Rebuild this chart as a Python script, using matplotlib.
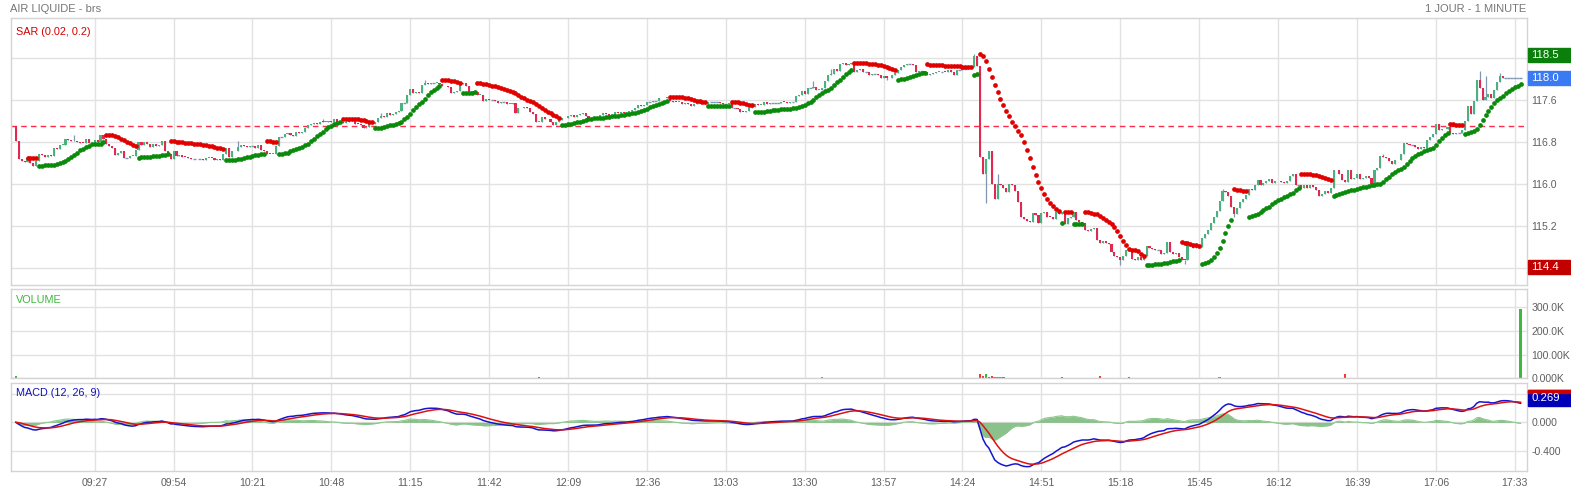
import numpy as np
import pandas as pd
import matplotlib
matplotlib.use("Agg")
import matplotlib.pyplot as plt
import matplotlib.transforms as mtransforms
from matplotlib.patches import Rectangle

plt.rcParams["font.family"] = ["Liberation Sans", "DejaVu Sans"]

# one bar per minute, 09:00 -> 17:35
FIRST_OPEN = 117.10
PREV_CLOSE = 117.10
CLOSES = [
    116.81, 116.47, 116.43, 116.41, 116.50, 116.40, 116.35, 116.44, 116.58, 116.56,  # 0
    116.52, 116.56, 116.54, 116.68, 116.67, 116.74, 116.75, 116.86, 116.83, 116.81,
    116.82, 116.80, 116.79, 116.78, 116.85, 116.79, 116.77, 116.84, 116.80, 116.94,
    116.85, 116.76, 116.72, 116.68, 116.56, 116.60, 116.62, 116.50, 116.50, 116.53,
    116.54, 116.64, 116.80, 116.74, 116.80, 116.77, 116.70, 116.77, 116.73, 116.75,
    116.82, 116.62, 116.58, 116.47, 116.63, 116.54, 116.55, 116.52, 116.51, 116.49,  # 50
    116.48, 116.48, 116.47, 116.47, 116.45, 116.49, 116.50, 116.49, 116.45, 116.47,
    116.46, 116.58, 116.68, 116.52, 116.63, 116.62, 116.71, 116.74, 116.73, 116.70,
    116.72, 116.72, 116.68, 116.74, 116.65, 116.62, 116.58, 116.57, 116.58, 116.73,
    116.90, 116.90, 116.95, 116.97, 116.93, 116.92, 117.00, 116.97, 116.99, 117.06,
    117.12, 117.14, 117.16, 117.15, 117.19, 117.18, 117.19, 117.20, 117.19, 117.24,  # 100
    117.19, 117.19, 117.17, 117.18, 117.20, 117.21, 117.15, 117.14, 117.12, 117.06,
    117.08, 117.16, 117.15, 117.18, 117.25, 117.29, 117.27, 117.35, 117.32, 117.34,
    117.37, 117.39, 117.55, 117.55, 117.70, 117.81, 117.73, 117.75, 117.74, 117.89,
    117.92, 117.91, 117.92, 117.92, 117.93, 117.91, 117.86, 117.87, 117.85, 117.73,
    117.76, 117.78, 117.91, 117.92, 117.87, 117.75, 117.76, 117.75, 117.69, 117.70,  # 150
    117.58, 117.62, 117.60, 117.60, 117.58, 117.54, 117.56, 117.56, 117.52, 117.53,
    117.54, 117.36, 117.44, 117.45, 117.46, 117.44, 117.38, 117.33, 117.18, 117.19,
    117.28, 117.24, 117.23, 117.19, 117.13, 117.19, 117.22, 117.25, 117.26, 117.30,
    117.31, 117.27, 117.31, 117.33, 117.35, 117.30, 117.26, 117.26, 117.26, 117.27,
    117.32, 117.36, 117.33, 117.30, 117.31, 117.37, 117.36, 117.37, 117.35, 117.35,  # 200
    117.39, 117.41, 117.44, 117.51, 117.48, 117.51, 117.57, 117.57, 117.58, 117.58,
    117.64, 117.63, 117.64, 117.66, 117.58, 117.57, 117.56, 117.57, 117.53, 117.55,
    117.52, 117.48, 117.52, 117.54, 117.54, 117.54, 117.52, 117.56, 117.56, 117.56,
    117.56, 117.55, 117.52, 117.52, 117.54, 117.44, 117.44, 117.42, 117.38, 117.37,
    117.40, 117.44, 117.46, 117.52, 117.50, 117.51, 117.57, 117.52, 117.55, 117.55,  # 250
    117.55, 117.55, 117.57, 117.56, 117.55, 117.56, 117.56, 117.68, 117.69, 117.77,
    117.72, 117.82, 117.82, 117.85, 117.79, 117.80, 117.82, 117.96, 118.08, 118.09,
    118.19, 118.16, 118.28, 118.31, 118.27, 118.28, 118.30, 118.14, 118.18, 118.19,
    118.14, 118.14, 118.08, 118.10, 118.10, 118.08, 118.02, 118.06, 118.01, 118.02,
    118.08, 118.12, 118.18, 118.22, 118.27, 118.28, 118.28, 118.27, 118.14, 118.16,  # 300
    118.16, 118.13, 118.08, 118.10, 118.11, 118.13, 118.14, 118.14, 118.13, 118.18,
    118.13, 118.08, 118.17, 118.17, 118.19, 118.19, 118.22, 118.22, 118.43, 118.24,
    116.52, 116.19, 116.47, 116.63, 116.00, 115.71, 116.00, 115.98, 115.92, 115.85,
    116.00, 115.98, 115.86, 115.65, 115.37, 115.33, 115.30, 115.27, 115.45, 115.40,
    115.25, 115.45, 115.47, 115.38, 115.37, 115.34, 115.46, 115.42, 115.47, 115.23,  # 350
    115.35, 115.38, 115.47, 115.31, 115.28, 115.25, 115.13, 115.10, 115.15, 115.17,
    114.93, 114.88, 114.91, 114.88, 114.86, 114.70, 114.63, 114.60, 114.55, 114.62,
    114.75, 114.72, 114.58, 114.56, 114.60, 114.56, 114.62, 114.81, 114.78, 114.77,
    114.74, 114.74, 114.66, 114.68, 114.89, 114.70, 114.66, 114.68, 114.60, 114.56,
    114.55, 114.83, 114.81, 114.78, 114.80, 114.80, 114.98, 115.05, 115.12, 115.26,  # 400
    115.38, 115.48, 115.68, 115.86, 115.84, 115.77, 115.57, 115.43, 115.54, 115.65,
    115.72, 115.80, 115.90, 115.89, 115.99, 116.08, 115.99, 116.02, 116.05, 116.10,
    116.02, 116.05, 116.06, 116.04, 116.02, 116.06, 116.15, 116.20, 115.99, 115.99,
    115.92, 115.99, 115.92, 115.99, 115.94, 115.89, 115.78, 115.81, 115.86, 115.82,
    115.93, 116.26, 116.27, 116.20, 116.08, 116.04, 116.26, 116.10, 116.11, 116.19,  # 450
    116.10, 116.12, 116.15, 116.12, 116.00, 116.27, 116.30, 116.53, 116.52, 116.50,
    116.44, 116.39, 116.45, 116.46, 116.58, 116.78, 116.76, 116.75, 116.75, 116.70,
    116.66, 116.70, 116.68, 116.84, 116.90, 116.96, 117.14, 117.03, 117.05, 117.04,
    117.08, 116.98, 116.96, 116.97, 116.97, 117.03, 117.20, 117.49, 117.33, 117.59,
    117.98, 117.82, 117.60, 117.65, 117.72, 117.63, 117.79, 117.95, 118.05, 118.02,  # 500
    118.02, 118.02, 118.02, 118.02, 118.02, 118.02,
]

# visible wicks beyond the candle bodies
WICK_HI_IDX = [0, 20, 76, 105, 125, 140, 273, 279, 328, 336, 413, 468, 501, 503, 508]
WICK_HI_VAL = [117.10, 116.93, 116.82, 117.24, 117.35, 117.98, 117.97, 118.19, 118.48,
               116.20, 115.90, 116.57, 118.15, 118.05, 118.12]
WICK_LO_IDX = [298, 332, 378, 400, 417]
WICK_LO_VAL = [117.99, 115.63, 114.45, 114.48, 115.38]

# volume (thousands), only the bars that show
VOL_IDX = [0, 179, 276, 330, 331, 332, 333, 334, 335, 336, 337, 338, 358, 371, 381, 412, 455, 515]
VOL_K = [10, 4, 5, 17, 10, 18, 5, 10, 4, 5, 6, 4, 4, 10, 7, 4, 17, 290]
VOL_UP = [1, 0, 1, 0, 0, 1, 0, 0, 1, 1, 1, 0, 0, 0, 0, 1, 0, 1]

TIME_LABELS = ["09:27", "09:54", "10:21", "10:48", "11:15", "11:42", "12:09", "12:36",
               "13:03", "13:30", "13:57", "14:24", "14:51", "15:18", "15:45", "16:12",
               "16:39", "17:06", "17:33"]

SAR_START = 4  # first bar carrying a SAR dot

W, H = 1571, 492
GRID = "#e2e2e2"
FRAME = "#d4d4d4"
LABEL = "#5f5f5f"
UP = "#4bb27f"
DOWN = "#e2284e"
WICK = "#8196b1"


def fx(px):
    return px / W


def fy(py):
    return 1 - py / H


def parabolic_sar(high, low, step=0.02, max_step=0.2):
    n = len(high)
    sar = np.empty(n)
    bull = np.empty(n, dtype=bool)
    is_bull = False
    af = step
    ep = low[0]
    sar[0] = high[0]
    bull[0] = is_bull
    for i in range(1, n):
        s = sar[i - 1] + af * (ep - sar[i - 1])
        if is_bull:
            s = min(s, low[i - 1], low[max(i - 2, 0)])
            if low[i] < s:
                is_bull, s, ep, af = False, ep, low[i], step
            elif high[i] > ep:
                ep = high[i]
                af = min(af + step, max_step)
        else:
            s = max(s, high[i - 1], high[max(i - 2, 0)])
            if high[i] > s:
                is_bull, s, ep, af = True, ep, high[i], step
            elif low[i] < ep:
                ep = low[i]
                af = min(af + step, max_step)
        sar[i] = s
        bull[i] = is_bull
    return sar, bull


def style_axes(ax):
    for sp in ax.spines.values():
        sp.set_color(FRAME)
        sp.set_linewidth(1)
    ax.grid(True, color=GRID, linewidth=1)
    ax.set_axisbelow(True)
    ax.yaxis.tick_right()
    ax.tick_params(axis="both", length=0, labelsize=7.6, labelcolor=LABEL, pad=3.2)
    ax.set_xlim(-1.75, 517.1)
    ax.set_xticks(np.arange(1, 20) * 27)
    ax.set_xticklabels([])


def value_box(ax, y, h, text, color, top_strip=None):
    tr = mtransforms.blended_transform_factory(ax.figure.transFigure, ax.transData)
    ax.add_patch(Rectangle((fx(1528), y - h / 2), fx(1571) - fx(1528), h,
                           transform=tr, color=color, clip_on=False, zorder=5))
    if top_strip:
        ax.add_patch(Rectangle((fx(1528), y + h / 2 - h * 0.14), fx(1571) - fx(1528), h * 0.14,
                               transform=tr, color=top_strip, clip_on=False, zorder=6))
    ax.text(fx(1531), y, text, transform=tr, color="white", fontsize=8.2,
            ha="left", va="center", zorder=7, clip_on=False)


closes = np.array(CLOSES)
x = np.arange(len(closes))
opens = np.concatenate([[FIRST_OPEN], closes[:-1]])
highs = np.maximum(opens, closes)
lows = np.minimum(opens, closes)
highs[WICK_HI_IDX] = np.maximum(highs[WICK_HI_IDX], WICK_HI_VAL)
lows[WICK_LO_IDX] = np.minimum(lows[WICK_LO_IDX], WICK_LO_VAL)

sar, bull = parabolic_sar(highs[SAR_START:], lows[SAR_START:])
sar_x = x[SAR_START:]

s = pd.Series(closes)
macd = s.ewm(span=12, adjust=False).mean() - s.ewm(span=26, adjust=False).mean()
signal = macd.ewm(span=9, adjust=False).mean()
hist = macd - signal

fig = plt.figure(figsize=(W / 100, H / 100), dpi=100)
left, width = fx(10.7), fx(1526.7) - fx(10.7)
ax_p = fig.add_axes([left, fy(285), width, fy(17.7) - fy(285)])
ax_v = fig.add_axes([left, fy(378.3), width, fy(289.3) - fy(378.3)])
ax_m = fig.add_axes([left, fy(471), width, fy(383.3) - fy(471)])
for ax in (ax_p, ax_v, ax_m):
    style_axes(ax)

# --- price panel
diff = np.round(closes - opens, 4)
up = diff > 0
dn = diff < 0
flat = diff == 0
ax_p.vlines(x, lows, highs, color=WICK, linewidth=0.9, zorder=2)
ax_p.bar(x[up], np.maximum(diff[up], 0.015), bottom=opens[up], width=0.72,
         color=UP, linewidth=0, zorder=3)
ax_p.bar(x[dn], np.maximum(-diff[dn], 0.015), bottom=closes[dn], width=0.72,
         color=DOWN, linewidth=0, zorder=3)
ax_p.hlines(closes[flat], x[flat] - 0.5, x[flat] + 0.5, color=WICK, linewidth=1, zorder=2)
ax_p.axhline(PREV_CLOSE, color="#ff2b4b", linewidth=1, dashes=(4, 3), zorder=1)
ax_p.plot(sar_x[bull], sar[bull], "o", color="#0a8a0a", ms=3.4, mec="none", zorder=4)
ax_p.plot(sar_x[~bull], sar[~bull], "o", color="#e00000", ms=3.4, mec="none", zorder=4)
ax_p.set_ylim(114.076, 119.168)
ax_p.set_yticks([114.4, 115.2, 116.0, 116.8, 117.6, 118.4])
ax_p.set_yticklabels(["", "115.2", "116.0", "116.8", "117.6", ""])
value_box(ax_p, 118.46, 0.27, "118.5", "#0b7f0b")
value_box(ax_p, 118.02, 0.27, "118.0", "#3a7bf5")
value_box(ax_p, 114.42, 0.27, "114.4", "#c30000")
ax_p.text(0.0035, 0.965, "SAR (0.02, 0.2)", transform=ax_p.transAxes,
          color="#d40000", fontsize=7.8, ha="left", va="top")

# --- volume panel
vol_colors = ["#3fb83f" if u else "#f03a3a" for u in VOL_UP]
ax_v.bar(VOL_IDX, np.array(VOL_K) * 1000, width=0.8, color=vol_colors, linewidth=0)
ax_v.set_ylim(0, 374000)
ax_v.set_yticks([0, 100000, 200000, 300000])
ax_v.set_yticklabels(["0.000K", "100.00K", "200.0K", "300.0K"])
ax_v.text(0.0035, 0.94, "VOLUME", transform=ax_v.transAxes, color="#3cb83c",
          fontsize=7.8, ha="left", va="top")

# --- MACD panel
ax_m.fill_between(x, 0, hist, color="#5aa85a", alpha=0.7, linewidth=0)
ax_m.plot(x, hist, color="#8cc98c", linewidth=0.8)
ax_m.plot(x, macd, color="#1515d0", linewidth=1.1)
ax_m.plot(x, signal, color="#dd1111", linewidth=1.1)
ax_m.set_ylim(-0.679, 0.544)
ax_m.set_yticks([-0.4, 0.0, 0.4])
ax_m.set_yticklabels(["-0.400", "0.000", ""])
ax_m.set_xticklabels(TIME_LABELS)
ax_m.tick_params(axis="x", pad=5)
value_box(ax_m, macd.iloc[-1] + 0.07, 0.22, "0.269", "#0000b8", top_strip="#cc0000")
ax_m.text(0.0035, 0.95, "MACD (12, 26, 9)", transform=ax_m.transAxes, color="#1010c0",
          fontsize=7.8, ha="left", va="top")

fig.text(fx(10), fy(9), "AIR LIQUIDE - brs", color="#777777", fontsize=8, ha="left", va="center")
fig.text(fx(1526), fy(9), "1 JOUR - 1 MINUTE", color="#777777", fontsize=8, ha="right", va="center")

fig.savefig("out.png", dpi=100)
